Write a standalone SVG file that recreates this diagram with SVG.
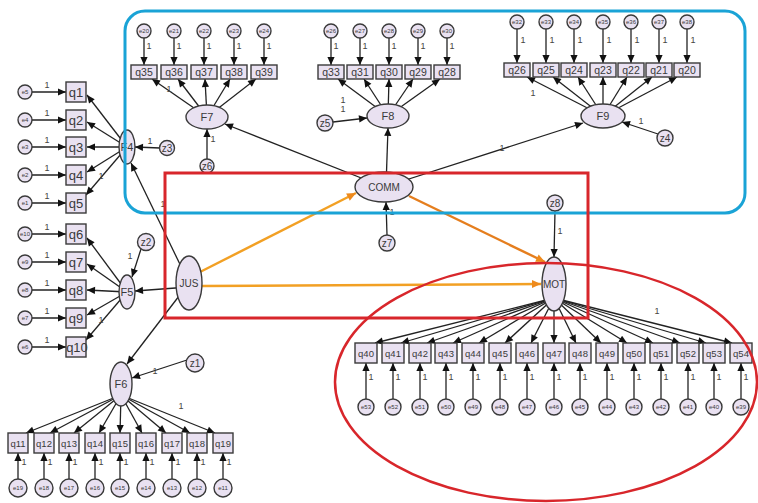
<svg xmlns="http://www.w3.org/2000/svg" width="758" height="503" viewBox="0 0 758 503">
<defs>
<marker id="ah" viewBox="0 0 10 10" refX="10" refY="5" markerWidth="9" markerHeight="8" markerUnits="userSpaceOnUse" orient="auto"><path d="M0,0.5 L10,5 L0,9.5 z" fill="#111"/></marker>
<marker id="ao" viewBox="0 0 10 10" refX="10" refY="5" markerWidth="11" markerHeight="9" markerUnits="userSpaceOnUse" orient="auto"><path d="M0,0.5 L10,5 L0,9.5 z" fill="#EE8A1C"/></marker>
</defs>
<style>
.c line{stroke:#222;stroke-width:1.3;marker-end:url(#ah)}
.c line.o{stroke:#F2A024;stroke-width:2.4;marker-end:url(#ao)}
.c line.o2{stroke:#E57E1E;stroke-width:2.4;marker-end:url(#ao)}
.n rect,.n ellipse,.n circle{fill:#E9E1F1;stroke:#3a3a3a;stroke-width:1.4}
text{font-family:"Liberation Sans",Arial,sans-serif;fill:#3a3a3a;text-anchor:middle;dominant-baseline:central}
.qb{font-size:13px}
.qs{font-size:10.5px}
.qm{font-size:9.5px}
.el{font-size:6px}
.zl{font-size:10px}
.fl{font-size:11px}
.one{font-size:9px;fill:#444}
</style>
<rect width="758" height="503" fill="#fff"/>

<g id="connectors" class="c">
<line x1="32" y1="92" x2="66" y2="92"/><line x1="32" y1="120" x2="66" y2="120"/><line x1="32" y1="147" x2="66" y2="147"/><line x1="32" y1="175" x2="66" y2="175"/><line x1="32" y1="203" x2="66" y2="203"/>
<line x1="32" y1="234" x2="66" y2="234"/><line x1="32" y1="262" x2="66" y2="262"/><line x1="32" y1="290" x2="66" y2="290"/><line x1="32" y1="318" x2="66" y2="318"/><line x1="32" y1="347" x2="66" y2="347"/>
<line x1="127" y1="147" x2="87" y2="95"/><line x1="127" y1="147" x2="87" y2="122"/><line x1="127" y1="147" x2="87" y2="147"/><line x1="127" y1="147" x2="87" y2="172"/><line x1="127" y1="147" x2="86" y2="195"/>
<line x1="127" y1="292" x2="87" y2="238"/><line x1="127" y1="292" x2="87" y2="264"/><line x1="127" y1="292" x2="87" y2="290"/><line x1="127" y1="292" x2="87" y2="315"/><line x1="127" y1="292" x2="86" y2="340"/>
<line x1="160" y1="148" x2="135" y2="147"/>
<line x1="141" y1="249" x2="132" y2="277"/>
<line x1="207" y1="159" x2="207" y2="129"/>
<line x1="333" y1="122" x2="367" y2="118"/>
<line x1="658" y1="134" x2="622" y2="122"/>
<line x1="387" y1="235" x2="386" y2="202"/>
<line x1="555" y1="211" x2="554" y2="257"/>
<line x1="187" y1="360" x2="132" y2="378"/>
<line x1="189" y1="283" x2="131" y2="163"/>
<line x1="189" y1="287" x2="135" y2="291"/>
<line x1="189" y1="283" x2="127" y2="364"/>
<line x1="384" y1="187" x2="225" y2="124"/>
<line x1="386" y1="187" x2="388" y2="128"/>
<line x1="384" y1="187" x2="583" y2="123"/>
<line class="o" x1="200" y1="272" x2="356" y2="193"/>
<line class="o" x1="202" y1="286" x2="541" y2="284"/>
<line class="o2" x1="409" y1="196" x2="545" y2="262"/>
<line x1="144" y1="38" x2="144" y2="65"/><line x1="174" y1="38" x2="174" y2="65"/><line x1="204" y1="38" x2="204" y2="65"/><line x1="234" y1="38" x2="234" y2="65"/><line x1="264" y1="38" x2="264" y2="65"/>
<line x1="207" y1="117" x2="152" y2="79"/><line x1="207" y1="117" x2="178" y2="79"/><line x1="207" y1="117" x2="205" y2="79"/><line x1="207" y1="117" x2="230" y2="79"/><line x1="207" y1="117" x2="256" y2="79"/>
<line x1="331" y1="38" x2="331" y2="65"/><line x1="360" y1="38" x2="360" y2="65"/><line x1="389" y1="38" x2="389" y2="65"/><line x1="418" y1="38" x2="418" y2="65"/><line x1="447" y1="38" x2="447" y2="65"/>
<line x1="388" y1="116" x2="338" y2="79"/><line x1="388" y1="116" x2="364" y2="79"/><line x1="388" y1="116" x2="389" y2="79"/><line x1="388" y1="116" x2="413" y2="79"/><line x1="388" y1="116" x2="440" y2="79"/>
<line x1="517" y1="29" x2="517" y2="63"/><line x1="546" y1="29" x2="546" y2="63"/><line x1="574" y1="29" x2="574" y2="63"/><line x1="603" y1="29" x2="603" y2="63"/><line x1="631" y1="29" x2="631" y2="63"/><line x1="659" y1="29" x2="659" y2="63"/><line x1="687" y1="29" x2="687" y2="63"/>
<line x1="603" y1="116" x2="527" y2="77"/><line x1="603" y1="116" x2="553" y2="77"/><line x1="603" y1="116" x2="578" y2="77"/><line x1="603" y1="116" x2="603" y2="77"/><line x1="603" y1="116" x2="627" y2="77"/><line x1="603" y1="116" x2="652" y2="77"/><line x1="603" y1="116" x2="677" y2="77"/>
<line x1="554" y1="298" x2="375" y2="343"/><line x1="554" y1="298" x2="401" y2="343"/><line x1="554" y1="298" x2="427" y2="343"/><line x1="554" y1="298" x2="453" y2="343"/><line x1="554" y1="298" x2="479" y2="343"/><line x1="554" y1="298" x2="505" y2="343"/><line x1="554" y1="298" x2="531" y2="343"/><line x1="554" y1="300" x2="554" y2="343"/><line x1="554" y1="298" x2="576" y2="343"/><line x1="554" y1="298" x2="601" y2="343"/><line x1="554" y1="298" x2="627" y2="343"/><line x1="554" y1="298" x2="653" y2="343"/><line x1="554" y1="298" x2="680" y2="343"/><line x1="554" y1="298" x2="706" y2="343"/><line x1="554" y1="298" x2="732" y2="343"/>
<line x1="366" y1="399" x2="366" y2="363"/><line x1="393" y1="399" x2="393" y2="363"/><line x1="420" y1="399" x2="420" y2="363"/><line x1="446" y1="399" x2="446" y2="363"/><line x1="473" y1="399" x2="473" y2="363"/><line x1="500" y1="399" x2="500" y2="363"/><line x1="527" y1="399" x2="527" y2="363"/><line x1="554" y1="399" x2="554" y2="363"/><line x1="580" y1="399" x2="580" y2="363"/><line x1="607" y1="399" x2="607" y2="363"/><line x1="634" y1="399" x2="634" y2="363"/><line x1="661" y1="399" x2="661" y2="363"/><line x1="688" y1="399" x2="688" y2="363"/><line x1="714" y1="399" x2="714" y2="363"/><line x1="741" y1="399" x2="741" y2="363"/>
<line x1="121" y1="395" x2="26" y2="433"/><line x1="121" y1="395" x2="50" y2="433"/><line x1="121" y1="395" x2="74" y2="433"/><line x1="121" y1="395" x2="99" y2="433"/><line x1="121" y1="395" x2="120" y2="433"/><line x1="121" y1="395" x2="142" y2="433"/><line x1="121" y1="395" x2="166" y2="433"/><line x1="121" y1="395" x2="190" y2="433"/><line x1="121" y1="395" x2="215" y2="433"/>
<line x1="18" y1="479" x2="18" y2="453"/><line x1="44" y1="479" x2="44" y2="453"/><line x1="69" y1="479" x2="69" y2="453"/><line x1="95" y1="479" x2="95" y2="453"/><line x1="120" y1="479" x2="120" y2="453"/><line x1="146" y1="479" x2="146" y2="453"/><line x1="172" y1="479" x2="172" y2="453"/><line x1="197" y1="479" x2="197" y2="453"/><line x1="223" y1="479" x2="223" y2="453"/>
</g>

<g id="labels-one">
<text class="one" x="47" y="85">1</text><text class="one" x="47" y="113">1</text><text class="one" x="47" y="140">1</text><text class="one" x="47" y="168">1</text><text class="one" x="47" y="196">1</text>
<text class="one" x="47" y="227">1</text><text class="one" x="47" y="255">1</text><text class="one" x="47" y="283">1</text><text class="one" x="47" y="311">1</text><text class="one" x="47" y="340">1</text>
<text class="one" x="101" y="176">1</text><text class="one" x="101" y="320">1</text>
<text class="one" x="150" y="141">1</text><text class="one" x="130" y="256">1</text><text class="one" x="163" y="204">1</text>
<text class="one" x="169" y="89">1</text><text class="one" x="213" y="139">1</text>
<text class="one" x="149" y="46">1</text><text class="one" x="179" y="46">1</text><text class="one" x="209" y="46">1</text><text class="one" x="239" y="46">1</text><text class="one" x="269" y="46">1</text>
<text class="one" x="336" y="46">1</text><text class="one" x="365" y="46">1</text><text class="one" x="394" y="46">1</text><text class="one" x="423" y="46">1</text><text class="one" x="452" y="46">1</text>
<text class="one" x="343" y="100">1</text><text class="one" x="343" y="109">1</text>
<text class="one" x="523" y="40">1</text><text class="one" x="552" y="40">1</text><text class="one" x="580" y="40">1</text><text class="one" x="609" y="40">1</text><text class="one" x="637" y="40">1</text><text class="one" x="665" y="40">1</text><text class="one" x="693" y="40">1</text>
<text class="one" x="533" y="93">1</text><text class="one" x="641" y="121">1</text><text class="one" x="502" y="148">1</text>
<text class="one" x="392" y="212">1</text><text class="one" x="560" y="231">1</text>
<text class="one" x="657" y="311">1</text>
<text class="one" x="371" y="377">1</text><text class="one" x="398" y="377">1</text><text class="one" x="425" y="377">1</text><text class="one" x="451" y="377">1</text><text class="one" x="478" y="377">1</text><text class="one" x="505" y="377">1</text><text class="one" x="532" y="377">1</text><text class="one" x="559" y="377">1</text><text class="one" x="585" y="377">1</text><text class="one" x="612" y="377">1</text><text class="one" x="639" y="377">1</text><text class="one" x="666" y="377">1</text><text class="one" x="693" y="377">1</text><text class="one" x="719" y="377">1</text><text class="one" x="746" y="377">1</text>
<text class="one" x="155" y="371">1</text><text class="one" x="181" y="406">1</text>
<text class="one" x="24" y="462">1</text><text class="one" x="50" y="462">1</text><text class="one" x="75" y="462">1</text><text class="one" x="101" y="462">1</text><text class="one" x="126" y="462">1</text><text class="one" x="152" y="462">1</text><text class="one" x="178" y="462">1</text><text class="one" x="203" y="462">1</text><text class="one" x="229" y="462">1</text>
</g>

<g id="q1" class="n"><rect x="66" y="82" width="20" height="20"/><text class="qb" x="76" y="92">q1</text></g>
<g id="q2" class="n"><rect x="66" y="110" width="20" height="20"/><text class="qb" x="76" y="120">q2</text></g>
<g id="q3" class="n"><rect x="66" y="137" width="20" height="20"/><text class="qb" x="76" y="147">q3</text></g>
<g id="q4" class="n"><rect x="66" y="165" width="20" height="20"/><text class="qb" x="76" y="175">q4</text></g>
<g id="q5" class="n"><rect x="66" y="193" width="20" height="20"/><text class="qb" x="76" y="203">q5</text></g>
<g id="q6" class="n"><rect x="66" y="224" width="20" height="20"/><text class="qb" x="76" y="234">q6</text></g>
<g id="q7" class="n"><rect x="66" y="252" width="20" height="20"/><text class="qb" x="76" y="262">q7</text></g>
<g id="q8" class="n"><rect x="66" y="280" width="20" height="20"/><text class="qb" x="76" y="290">q8</text></g>
<g id="q9" class="n"><rect x="66" y="308" width="20" height="20"/><text class="qb" x="76" y="318">q9</text></g>
<g id="q10" class="n"><rect x="66" y="337" width="20" height="20"/><text class="qb" x="77" y="347">q10</text></g>
<g id="e5" class="n"><circle cx="25" cy="92" r="7"/><text class="el" x="25" y="92">e5</text></g>
<g id="e4" class="n"><circle cx="25" cy="120" r="7"/><text class="el" x="25" y="120">e4</text></g>
<g id="e3" class="n"><circle cx="25" cy="147" r="7"/><text class="el" x="25" y="147">e3</text></g>
<g id="e2" class="n"><circle cx="25" cy="175" r="7"/><text class="el" x="25" y="175">e2</text></g>
<g id="e1" class="n"><circle cx="25" cy="203" r="7"/><text class="el" x="25" y="203">e1</text></g>
<g id="e10" class="n"><circle cx="25" cy="234" r="7"/><text class="el" x="25" y="234">e10</text></g>
<g id="e9" class="n"><circle cx="25" cy="262" r="7"/><text class="el" x="25" y="262">e9</text></g>
<g id="e8" class="n"><circle cx="25" cy="290" r="7"/><text class="el" x="25" y="290">e8</text></g>
<g id="e7" class="n"><circle cx="25" cy="318" r="7"/><text class="el" x="25" y="318">e7</text></g>
<g id="e6" class="n"><circle cx="25" cy="347" r="7"/><text class="el" x="25" y="347">e6</text></g>

<g id="F4" class="n"><ellipse cx="127" cy="147" rx="8" ry="17"/><text class="fl" x="127" y="147">F4</text></g>
<g id="F5" class="n"><ellipse cx="127" cy="292" rx="8" ry="17"/><text class="fl" x="127" y="292">F5</text></g>
<g id="z3" class="n"><circle cx="167" cy="148" r="7.5"/><text class="zl" x="167" y="148">z3</text></g>
<g id="z2" class="n"><circle cx="146" cy="242" r="8.5"/><text class="zl" x="146" y="242">z2</text></g>
<g id="JUS" class="n"><ellipse cx="189" cy="283" rx="13" ry="27"/><text class="zl" x="189" y="283">JUS</text></g>

<g id="F7" class="n"><ellipse cx="207" cy="117" rx="21" ry="12"/><text class="fl" x="207" y="117">F7</text></g>
<g id="z6" class="n"><circle cx="207" cy="166" r="7"/><text class="zl" x="207" y="166">z6</text></g>
<g id="q35" class="n"><rect x="131" y="65" width="26" height="14"/><text class="qs" x="144" y="72">q35</text></g>
<g id="q36" class="n"><rect x="161" y="65" width="26" height="14"/><text class="qs" x="174" y="72">q36</text></g>
<g id="q37" class="n"><rect x="191" y="65" width="26" height="14"/><text class="qs" x="204" y="72">q37</text></g>
<g id="q38" class="n"><rect x="221" y="65" width="26" height="14"/><text class="qs" x="234" y="72">q38</text></g>
<g id="q39" class="n"><rect x="251" y="65" width="26" height="14"/><text class="qs" x="264" y="72">q39</text></g>
<g id="e20" class="n"><circle cx="144" cy="31" r="7"/><text class="el" x="144" y="31">e20</text></g>
<g id="e21" class="n"><circle cx="174" cy="31" r="7"/><text class="el" x="174" y="31">e21</text></g>
<g id="e22" class="n"><circle cx="204" cy="31" r="7"/><text class="el" x="204" y="31">e22</text></g>
<g id="e23" class="n"><circle cx="234" cy="31" r="7"/><text class="el" x="234" y="31">e23</text></g>
<g id="e24" class="n"><circle cx="264" cy="31" r="7"/><text class="el" x="264" y="31">e24</text></g>

<g id="F8" class="n"><ellipse cx="388" cy="116" rx="21" ry="12"/><text class="fl" x="388" y="116">F8</text></g>
<g id="z5" class="n"><circle cx="325" cy="123" r="8"/><text class="zl" x="325" y="123">z5</text></g>
<g id="q33" class="n"><rect x="318" y="65" width="26" height="14"/><text class="qs" x="331" y="72">q33</text></g>
<g id="q31" class="n"><rect x="347" y="65" width="26" height="14"/><text class="qs" x="360" y="72">q31</text></g>
<g id="q30" class="n"><rect x="376" y="65" width="26" height="14"/><text class="qs" x="389" y="72">q30</text></g>
<g id="q29" class="n"><rect x="405" y="65" width="26" height="14"/><text class="qs" x="418" y="72">q29</text></g>
<g id="q28" class="n"><rect x="434" y="65" width="26" height="14"/><text class="qs" x="447" y="72">q28</text></g>
<g id="e26" class="n"><circle cx="331" cy="31" r="7"/><text class="el" x="331" y="31">e26</text></g>
<g id="e27" class="n"><circle cx="360" cy="31" r="7"/><text class="el" x="360" y="31">e27</text></g>
<g id="e28" class="n"><circle cx="389" cy="31" r="7"/><text class="el" x="389" y="31">e28</text></g>
<g id="e29" class="n"><circle cx="418" cy="31" r="7"/><text class="el" x="418" y="31">e29</text></g>
<g id="e30" class="n"><circle cx="447" cy="31" r="7"/><text class="el" x="447" y="31">e30</text></g>

<g id="F9" class="n"><ellipse cx="603" cy="116" rx="22" ry="12"/><text class="fl" x="603" y="116">F9</text></g>
<g id="z4" class="n"><circle cx="665" cy="138" r="8"/><text class="zl" x="665" y="138">z4</text></g>
<g id="q26" class="n"><rect x="504" y="63" width="26" height="14"/><text class="qs" x="517" y="70">q26</text></g>
<g id="q25" class="n"><rect x="533" y="63" width="26" height="14"/><text class="qs" x="546" y="70">q25</text></g>
<g id="q24" class="n"><rect x="561" y="63" width="26" height="14"/><text class="qs" x="574" y="70">q24</text></g>
<g id="q23" class="n"><rect x="590" y="63" width="26" height="14"/><text class="qs" x="603" y="70">q23</text></g>
<g id="q22" class="n"><rect x="618" y="63" width="26" height="14"/><text class="qs" x="631" y="70">q22</text></g>
<g id="q21" class="n"><rect x="646" y="63" width="26" height="14"/><text class="qs" x="659" y="70">q21</text></g>
<g id="q20" class="n"><rect x="674" y="63" width="26" height="14"/><text class="qs" x="687" y="70">q20</text></g>
<g id="e32" class="n"><circle cx="517" cy="22" r="7"/><text class="el" x="517" y="22">e32</text></g>
<g id="e33" class="n"><circle cx="546" cy="22" r="7"/><text class="el" x="546" y="22">e33</text></g>
<g id="e34" class="n"><circle cx="574" cy="22" r="7"/><text class="el" x="574" y="22">e34</text></g>
<g id="e35" class="n"><circle cx="603" cy="22" r="7"/><text class="el" x="603" y="22">e35</text></g>
<g id="e36" class="n"><circle cx="631" cy="22" r="7"/><text class="el" x="631" y="22">e36</text></g>
<g id="e37" class="n"><circle cx="659" cy="22" r="7"/><text class="el" x="659" y="22">e37</text></g>
<g id="e38" class="n"><circle cx="687" cy="22" r="7"/><text class="el" x="687" y="22">e38</text></g>

<g id="COMM" class="n"><ellipse cx="384" cy="187" rx="29" ry="15"/><text class="zl" x="384" y="187">COMM</text></g>
<g id="z7" class="n"><circle cx="387" cy="243" r="8"/><text class="zl" x="387" y="243">z7</text></g>
<g id="MOT" class="n"><ellipse cx="554" cy="284" rx="12" ry="27"/><text class="zl" x="554" y="284">MOT</text></g>
<g id="z8" class="n"><circle cx="555" cy="203" r="8"/><text class="zl" x="555" y="203">z8</text></g>

<g id="q40" class="n"><rect x="355" y="343" width="22" height="20"/><text class="qm" x="366" y="353">q40</text></g>
<g id="q41" class="n"><rect x="382" y="343" width="22" height="20"/><text class="qm" x="393" y="353">q41</text></g>
<g id="q42" class="n"><rect x="409" y="343" width="22" height="20"/><text class="qm" x="420" y="353">q42</text></g>
<g id="q43" class="n"><rect x="435" y="343" width="22" height="20"/><text class="qm" x="446" y="353">q43</text></g>
<g id="q44" class="n"><rect x="462" y="343" width="22" height="20"/><text class="qm" x="473" y="353">q44</text></g>
<g id="q45" class="n"><rect x="489" y="343" width="22" height="20"/><text class="qm" x="500" y="353">q45</text></g>
<g id="q46" class="n"><rect x="516" y="343" width="22" height="20"/><text class="qm" x="527" y="353">q46</text></g>
<g id="q47" class="n"><rect x="543" y="343" width="22" height="20"/><text class="qm" x="554" y="353">q47</text></g>
<g id="q48" class="n"><rect x="569" y="343" width="22" height="20"/><text class="qm" x="580" y="353">q48</text></g>
<g id="q49" class="n"><rect x="596" y="343" width="22" height="20"/><text class="qm" x="607" y="353">q49</text></g>
<g id="q50" class="n"><rect x="623" y="343" width="22" height="20"/><text class="qm" x="634" y="353">q50</text></g>
<g id="q51" class="n"><rect x="650" y="343" width="22" height="20"/><text class="qm" x="661" y="353">q51</text></g>
<g id="q52" class="n"><rect x="677" y="343" width="22" height="20"/><text class="qm" x="688" y="353">q52</text></g>
<g id="q53" class="n"><rect x="703" y="343" width="22" height="20"/><text class="qm" x="714" y="353">q53</text></g>
<g id="q54" class="n"><rect x="730" y="343" width="22" height="20"/><text class="qm" x="741" y="353">q54</text></g>
<g id="e53" class="n"><circle cx="366" cy="407" r="8"/><text class="el" x="366" y="407">e53</text></g>
<g id="e52" class="n"><circle cx="393" cy="407" r="8"/><text class="el" x="393" y="407">e52</text></g>
<g id="e51" class="n"><circle cx="420" cy="407" r="8"/><text class="el" x="420" y="407">e51</text></g>
<g id="e50" class="n"><circle cx="446" cy="407" r="8"/><text class="el" x="446" y="407">e50</text></g>
<g id="e49" class="n"><circle cx="473" cy="407" r="8"/><text class="el" x="473" y="407">e49</text></g>
<g id="e48" class="n"><circle cx="500" cy="407" r="8"/><text class="el" x="500" y="407">e48</text></g>
<g id="e47" class="n"><circle cx="527" cy="407" r="8"/><text class="el" x="527" y="407">e47</text></g>
<g id="e46" class="n"><circle cx="554" cy="407" r="8"/><text class="el" x="554" y="407">e46</text></g>
<g id="e45" class="n"><circle cx="580" cy="407" r="8"/><text class="el" x="580" y="407">e45</text></g>
<g id="e44" class="n"><circle cx="607" cy="407" r="8"/><text class="el" x="607" y="407">e44</text></g>
<g id="e43" class="n"><circle cx="634" cy="407" r="8"/><text class="el" x="634" y="407">e43</text></g>
<g id="e42" class="n"><circle cx="661" cy="407" r="8"/><text class="el" x="661" y="407">e42</text></g>
<g id="e41" class="n"><circle cx="688" cy="407" r="8"/><text class="el" x="688" y="407">e41</text></g>
<g id="e40" class="n"><circle cx="714" cy="407" r="8"/><text class="el" x="714" y="407">e40</text></g>
<g id="e39" class="n"><circle cx="741" cy="407" r="8"/><text class="el" x="741" y="407">e39</text></g>

<g id="F6" class="n"><ellipse cx="121" cy="384" rx="11" ry="22"/><text class="fl" x="121" y="384">F6</text></g>
<g id="z1" class="n"><circle cx="195" cy="363" r="9"/><text class="zl" x="195" y="363">z1</text></g>
<g id="q11" class="n"><rect x="8" y="433" width="20" height="20"/><text class="qm" x="18" y="443">q11</text></g>
<g id="q12" class="n"><rect x="34" y="433" width="20" height="20"/><text class="qm" x="44" y="443">q12</text></g>
<g id="q13" class="n"><rect x="59" y="433" width="20" height="20"/><text class="qm" x="69" y="443">q13</text></g>
<g id="q14" class="n"><rect x="85" y="433" width="20" height="20"/><text class="qm" x="95" y="443">q14</text></g>
<g id="q15" class="n"><rect x="110" y="433" width="20" height="20"/><text class="qm" x="120" y="443">q15</text></g>
<g id="q16" class="n"><rect x="136" y="433" width="20" height="20"/><text class="qm" x="146" y="443">q16</text></g>
<g id="q17" class="n"><rect x="162" y="433" width="20" height="20"/><text class="qm" x="172" y="443">q17</text></g>
<g id="q18" class="n"><rect x="187" y="433" width="20" height="20"/><text class="qm" x="197" y="443">q18</text></g>
<g id="q19" class="n"><rect x="213" y="433" width="20" height="20"/><text class="qm" x="223" y="443">q19</text></g>
<g id="e19" class="n"><circle cx="18" cy="488" r="9"/><text class="el" x="18" y="488">e19</text></g>
<g id="e18" class="n"><circle cx="44" cy="488" r="9"/><text class="el" x="44" y="488">e18</text></g>
<g id="e17" class="n"><circle cx="69" cy="488" r="9"/><text class="el" x="69" y="488">e17</text></g>
<g id="e16" class="n"><circle cx="95" cy="488" r="9"/><text class="el" x="95" y="488">e16</text></g>
<g id="e15" class="n"><circle cx="120" cy="488" r="9"/><text class="el" x="120" y="488">e15</text></g>
<g id="e14" class="n"><circle cx="146" cy="488" r="9"/><text class="el" x="146" y="488">e14</text></g>
<g id="e13" class="n"><circle cx="172" cy="488" r="9"/><text class="el" x="172" y="488">e13</text></g>
<g id="e12" class="n"><circle cx="197" cy="488" r="9"/><text class="el" x="197" y="488">e12</text></g>
<g id="e11" class="n"><circle cx="223" cy="488" r="9"/><text class="el" x="223" y="488">e11</text></g>

<g id="frames" fill="none">
<rect x="125" y="11" width="620" height="202" rx="20" stroke="#1AA3D6" stroke-width="3"/>
<rect x="165" y="173" width="423" height="145" stroke="#D8262B" stroke-width="3"/>
<ellipse cx="546" cy="382" rx="211" ry="119" stroke="#D8262B" stroke-width="2.5"/>
</g>
</svg>
